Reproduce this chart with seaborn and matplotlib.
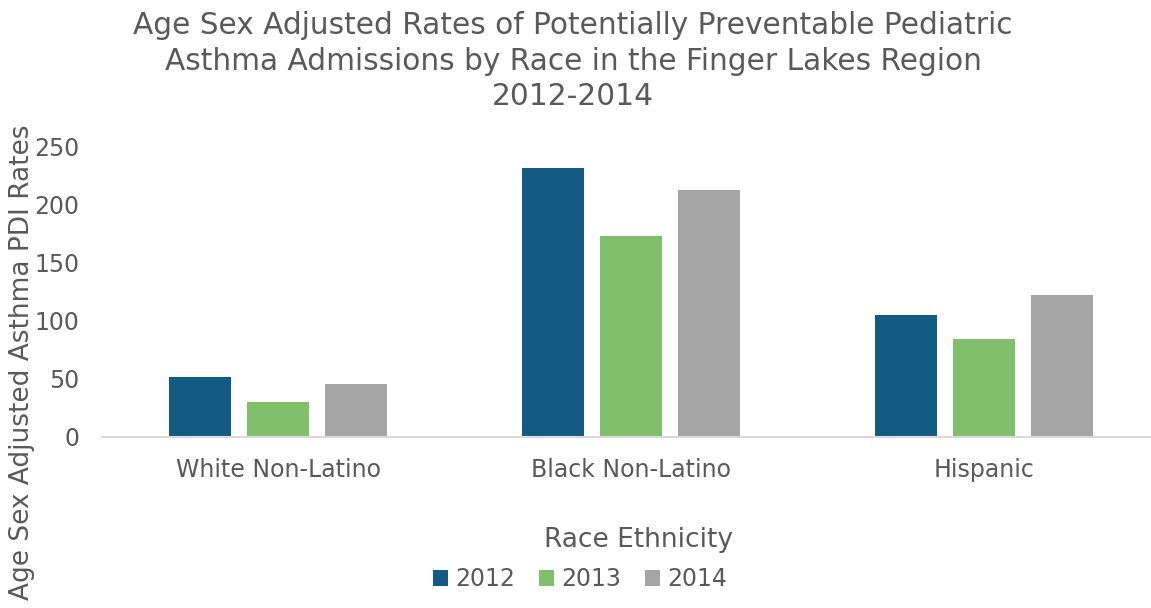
import matplotlib
matplotlib.use("Agg")
import matplotlib.pyplot as plt
import seaborn as sns
import pandas as pd

categories = ["White Non-Latino", "Black Non-Latino", "Hispanic"]
years = ["2012", "2013", "2014"]
v2012 = [52, 231.5, 105]
v2013 = [30, 173.5, 84.5]
v2014 = [45.5, 213, 122.5]
colors = ["#135b82", "#82bf6d", "#a5a5a5"]

rows = []
for yr, vals in zip(years, [v2012, v2013, v2014]):
    for c, v in zip(categories, vals):
        rows.append({"Race Ethnicity": c, "Year": yr, "Rate": v})
df = pd.DataFrame(rows)

sns.set_theme(style="white")
plt.rcParams['font.family'] = ['DejaVu Sans']
text_color = "#595959"

fig = plt.figure(figsize=(11.51, 6.08), dpi=100)
ax = fig.add_axes([101.5 / 1151, (608 - 437) / 608, 1059 / 1151, 290 / 608])

sns.barplot(data=df, x="Race Ethnicity", y="Rate", hue="Year", order=categories,
            hue_order=years, palette=colors, width=0.663, gap=0.2, ax=ax,
            saturation=1, legend=True, edgecolor="none")

ax.set_ylim(0, 250)
ax.set_xlim(-0.5, 2.5)
ax.set_yticks([0, 50, 100, 150, 200, 250])
for s in ["top", "right", "left"]:
    ax.spines[s].set_visible(False)
ax.spines["bottom"].set_color("#d9d9d9")
ax.spines["bottom"].set_linewidth(1.5)
ax.tick_params(axis="both", length=0, labelsize=17, colors=text_color)
ax.tick_params(axis="y", pad=16)
ax.tick_params(axis="x", pad=15)

ax.set_xlabel("Race Ethnicity", fontsize=19, color=text_color)
ax.xaxis.set_label_coords((638 - 101.5) / 1059, -(527 - 437) / 290)
ax.set_ylabel("Age Sex Adjusted Asthma PDI Rates", fontsize=19, color=text_color)
ax.yaxis.set_label_coords(-(101.5 - 35) / 1059, (437 - 362) / 290)

fig.text(573 / 1151, 1 - 61 / 608,
         "Age Sex Adjusted Rates of Potentially Preventable Pediatric\n"
         "Asthma Admissions by Race in the Finger Lakes Region\n2012-2014",
         ha="center", va="center", fontsize=21.3, color=text_color, linespacing=1.3)

leg = ax.legend(loc="center", bbox_to_anchor=(580 / 1151, 1 - 579 / 608),
                bbox_transform=fig.transFigure, ncol=3, frameon=False,
                fontsize=17, handlelength=0.65, handleheight=0.65,
                handletextpad=0.3, columnspacing=1.0)
for t in leg.get_texts():
    t.set_color(text_color)

fig.savefig("out.png", dpi=100)
